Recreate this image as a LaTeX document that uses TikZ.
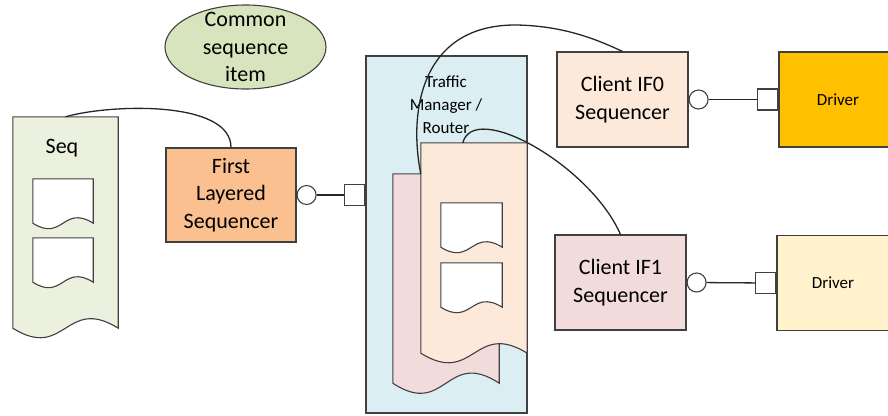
\documentclass[tikz,border=0pt]{standalone}
\usepackage{fontspec}
\setmainfont{Carlito}
\usetikzlibrary{positioning,calc,shapes.geometric}
\definecolor{seqgreen}{HTML}{EBF1DE}
\definecolor{itemgreen}{HTML}{D7E4BD}
\definecolor{layerorange}{HTML}{FAC090}
\definecolor{peach}{HTML}{FDE9D9}
\definecolor{rose}{HTML}{F2DCDB}
\definecolor{routerblue}{HTML}{DAEEF3}
\definecolor{drivergold}{HTML}{FFC000}
\definecolor{driverpale}{HTML}{FFF2CC}
\definecolor{edgegray}{HTML}{404040}

% page outline with a wavy bottom, drawn round an empty node
\newcommand{\docshape}[3]{%
  \draw[docline, fill=#2] (#1.south west) -- (#1.north west) -- (#1.north east) -- (#1.south east)
    .. controls ($(#1.south)+(0,-#3)$) and ($(#1.south)+(0,#3)$) .. (#1.south west) -- cycle;}

\begin{document}
\begin{tikzpicture}[x=1pt, y=-1pt,
    bigtext/.style={font=\fontsize{22}{27.5}\selectfont, align=center},
    smalltext/.style={font=\fontsize{17}{23}\selectfont, align=center},
    box/.style={rectangle, draw=edgegray, line width=1.1pt, inner sep=0pt, minimum width=131pt, minimum height=95pt, bigtext},
    page/.style={rectangle, draw=none, inner sep=0pt},
    docline/.style={draw=edgegray, line width=1.1pt},
    itemblob/.style={ellipse, draw=edgegray, fill=itemgreen, line width=1.1pt, inner sep=0pt, minimum width=161pt, minimum height=84pt},
    plug/.style={circle, draw=edgegray, fill=white, line width=1.1pt, inner sep=0pt, minimum size=19pt},
    socket/.style={rectangle, draw=edgegray, fill=white, line width=1.1pt, inner sep=0pt, minimum width=20pt, minimum height=21pt},
    wire/.style={draw=black!85, line width=1.3pt}
  ]
    \useasboundingbox (0,0) rectangle (888,415);

    % shared item
    \node[itemblob] (item) at (245.5,47) {};
    \node[bigtext] (itemlbl) at (item) {Common\\sequence\\item};

    % sequence stack
    \node[page, minimum width=105pt, minimum height=211pt] (seq) at (65.5,222.5) {};
    \docshape{seq}{seqgreen}{33}
    \node[bigtext] (seqlbl) at (62,148) {Seq};
    \node[page, minimum width=60pt, minimum height=44pt] (seqa) at (63,201) {};
    \docshape{seqa}{white}{19}
    \node[page, minimum width=60pt, minimum height=44pt] (seqb) at (63,260) {};
    \docshape{seqb}{white}{19}

    \node[box, fill=layerorange, minimum width=130pt, minimum height=94pt] (fls) at (231,195) {First\\Layered\\Sequencer};

    % router
    \node[box, fill=routerblue, minimum width=161pt, minimum height=357pt] (tm) at (446.5,234.5) {};
    \node[smalltext] (tmlbl) at (446,105) {Traffic\\Manager /\\Router};
    \node[page, minimum width=106pt, minimum height=209pt] (pinkdoc) at (446,278.5) {};
    \docshape{pinkdoc}{rose}{35}
    \node[page, minimum width=106pt, minimum height=210pt] (frontdoc) at (474,248) {};
    \docshape{frontdoc}{peach}{33}
    \node[page, minimum width=61pt, minimum height=44pt] (fronta) at (471.5,225) {};
    \docshape{fronta}{white}{19}
    \node[page, minimum width=61pt, minimum height=44pt] (frontb) at (471.5,285) {};
    \docshape{frontb}{white}{19}

    % clients and drivers
    \node[box, fill=peach] (cif0) at (622.5,99.5) {Client IF0\\Sequencer};
    \node[box, fill=rose] (cif1) at (620.5,282.5) {Client IF1\\Sequencer};
    \node[box, fill=drivergold, minimum width=118pt, smalltext] (drv0) at (838,99.5) {Driver};
    \node[box, fill=driverpale, minimum width=112pt, smalltext] (drv1) at (833,283) {Driver};

    % ports
    \node[plug, right=0pt of fls] (flsplug) {};
    \node[socket, anchor=east] (tmsock) at (tm.west |- flsplug) {};
    \node[plug, right=0pt of cif0] (cif0plug) {};
    \node[socket, left=0pt of drv0] (drv0sock) {};
    \node[plug, right=0pt of cif1] (cif1plug) {};
    \node[socket, left=0pt of drv1] (drv1sock) {};

    \draw[wire] (flsplug) -- (tmsock);
    \draw[wire] (cif0plug) -- (drv0sock);
    \draw[wire] (cif1plug) -- (drv1sock);

    \coordinate (bend0) at (frontdoc.west |- pinkdoc.north);
    \coordinate (bend1) at ($(frontdoc.north west)+(42,0)$);

    \draw[wire] (seq.north) .. controls (110,104) and (231,100) .. (fls.north);
    \draw[wire] (bend0) .. controls (408,110) and (422,24) .. (517,25) .. controls (562,26) and (594,38) .. (cif0.north);
    \draw[wire] (bend1) .. controls (474,100) and (590,165) .. (cif1.north);
  \end{tikzpicture}
\end{document}
